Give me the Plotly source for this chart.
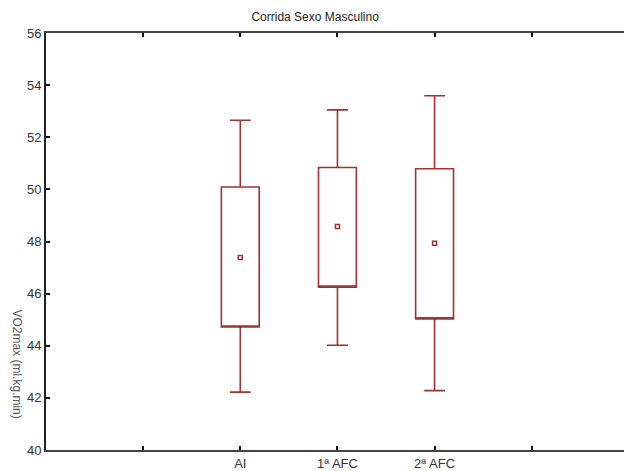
import plotly.graph_objects as go

# Groups and summary statistics of VO2max per test
categories = ["AI", "1ª AFC", "2ª AFC"]
positions = [2, 3, 4]
whisker_low = [42.22, 44.02, 42.28]
box_low = [44.72, 46.25, 45.03]
box_high = [50.09, 50.84, 50.79]
whisker_high = [52.65, 53.05, 53.59]
means = [47.39, 48.58, 47.93]

tick_positions = [1, 2, 3, 4, 5]
tick_labels = ["", "AI", "1ª AFC", "2ª AFC", ""]
y_ticks = [40, 42, 44, 46, 48, 50, 52, 54, 56]

RED = "#A33333"
FONT = "Liberation Sans, Arial, sans-serif"

fig = go.Figure()

fig.add_trace(go.Box(
    x=positions,
    q1=box_low,
    median=box_low,
    q3=box_high,
    lowerfence=whisker_low,
    upperfence=whisker_high,
    boxpoints=False,
    width=0.39,
    whiskerwidth=0.55,
    fillcolor="rgba(255,255,255,0)",
    line=dict(color=RED, width=1.6),
    showlegend=False,
    hoverinfo="skip",
))

fig.add_trace(go.Scatter(
    x=positions,
    y=means,
    mode="markers",
    marker=dict(symbol="square-open", size=4, color=RED, line=dict(color=RED, width=1.5)),
    showlegend=False,
    hoverinfo="skip",
))

fig.update_layout(
    width=624,
    height=471,
    margin=dict(l=46, r=0, t=33, b=19),
    paper_bgcolor="white",
    plot_bgcolor="white",
    font=dict(family=FONT, color="#333333"),
    title=dict(text="Corrida Sexo Masculino", x=0.505, xanchor="center",
               y=1 - 17 / 471, yanchor="middle",
               font=dict(size=12, color="#222222", family=FONT)),
    xaxis=dict(
        range=[0, 5.95],
        tickmode="array",
        tickvals=tick_positions,
        ticktext=tick_labels,
        ticks="inside",
        ticklen=4,
        tickwidth=1.5,
        tickcolor="#111111",
        showline=True,
        linecolor="#444444",
        linewidth=2,
        mirror="ticks",
        showgrid=False,
        zeroline=False,
        tickfont=dict(size=13, color="#333333"),
    ),
    yaxis=dict(
        range=[40, 56],
        tickmode="array",
        tickvals=y_ticks,
        ticks="inside",
        ticklen=4,
        tickwidth=1.5,
        tickcolor="#111111",
        showline=True,
        linecolor="#222222",
        linewidth=2,
        showgrid=False,
        zeroline=False,
        tickfont=dict(size=13, color="#333333"),
    ),
    annotations=[dict(
        text="VO2max (ml.kg.min)",
        xref="paper", yref="paper",
        x=-46 / 578 + 17 / 578, y=(452 - 365) / 419,
        xanchor="center", yanchor="middle",
        textangle=90,
        showarrow=False,
        font=dict(size=12, color="#555555", family=FONT),
    )],
)

fig.write_html("out.html")
